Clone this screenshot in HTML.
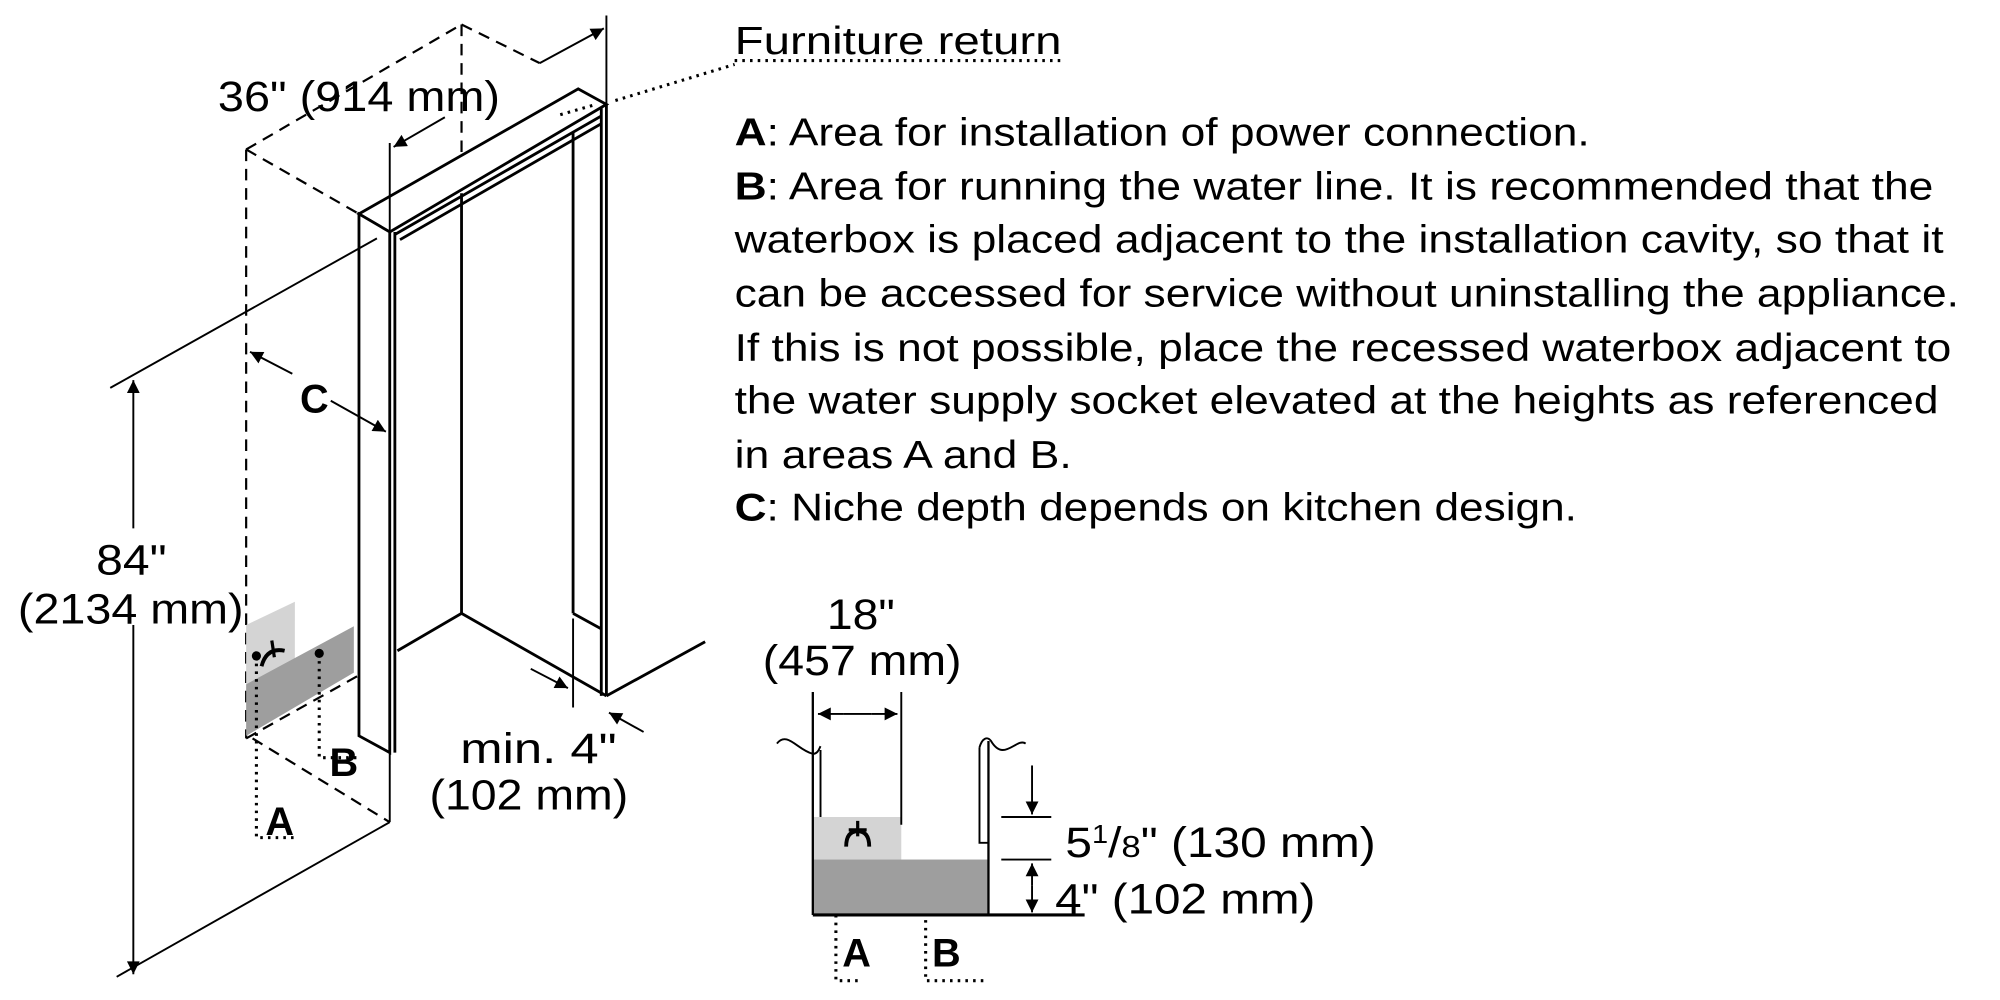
<!DOCTYPE html>
<html><head><meta charset="utf-8"><style>
html,body{margin:0;padding:0;background:#fff;width:2000px;height:1000px;overflow:hidden}
svg{display:block}
text{font-family:"Liberation Sans",Arial,sans-serif;fill:#000}
</style></head><body>
<svg width="2000" height="1000" viewBox="0 0 1560 776" preserveAspectRatio="none" xmlns="http://www.w3.org/2000/svg">
<defs>
<marker id="ar" viewBox="0 0 10 10" refX="10" refY="5" markerWidth="14" markerHeight="10" markerUnits="userSpaceOnUse" orient="auto"><path d="M0,0 L10,5 L0,10 z" fill="#000"/></marker>
</defs>
<g stroke="#000" stroke-width="2.2" fill="none">
<g stroke-dasharray="9,6" stroke-width="1.7">
<line x1="192" y1="116" x2="360" y2="19"/>
<line x1="360" y1="19" x2="421" y2="49"/>
<line x1="360" y1="19" x2="360" y2="150"/>
<line x1="192" y1="116" x2="280" y2="166"/>
<line x1="192" y1="116" x2="192" y2="573"/>
<line x1="197" y1="573" x2="304" y2="638"/>
<line x1="192" y1="573" x2="280" y2="524"/>
</g>
<polygon points="192,485 230,467 230,511 192,531" fill="#d4d4d4" stroke="none"/>
<polygon points="192,531 276,486 276,522 192,571" fill="#9e9e9e" stroke="none"/>
<polygon points="280,166 451,69 473,81 304,180" fill="#fff"/>
<polygon points="280,166 304,180 304,584 280,571" fill="#fff"/>
<line x1="308" y1="180" x2="308" y2="584"/>
<line x1="308" y1="182" x2="469" y2="90"/>
<line x1="312" y1="186" x2="469" y2="96"/>
<line x1="360" y1="150" x2="360" y2="476"/>
<line x1="360" y1="476" x2="310" y2="505"/>
<line x1="360" y1="476" x2="473" y2="540"/>
<line x1="447" y1="103" x2="447" y2="476"/>
<line x1="447" y1="476" x2="469" y2="488"/>
<line x1="469" y1="84" x2="469" y2="540"/>
<line x1="473" y1="81" x2="473" y2="540"/>
<line x1="473" y1="540" x2="550" y2="498"/>
<line x1="473" y1="81" x2="473" y2="12" stroke-width="1.5"/>
<line x1="421" y1="49" x2="471" y2="22" marker-end="url(#ar)" stroke-width="1.5"/>
<line x1="347" y1="91" x2="307" y2="114" marker-end="url(#ar)" stroke-width="1.5"/>
<line x1="304" y1="111" x2="304" y2="189" stroke-width="1.5"/>
<line x1="86" y1="301" x2="294" y2="185" stroke-width="1.5"/>
<line x1="91" y1="758" x2="304" y2="638" stroke-width="1.5"/>
<line x1="304" y1="584" x2="304" y2="638" stroke-width="1.5"/>
<line x1="104" y1="410" x2="104" y2="295" marker-end="url(#ar)" stroke-width="1.5"/>
<line x1="104" y1="485" x2="104" y2="756" marker-end="url(#ar)" stroke-width="1.5"/>
<line x1="228" y1="290" x2="195" y2="273" marker-end="url(#ar)" stroke-width="1.5"/>
<line x1="258" y1="311" x2="301" y2="335" marker-end="url(#ar)" stroke-width="1.5"/>
<line x1="447" y1="480" x2="447" y2="549" stroke-width="1.5"/>
<line x1="414" y1="519" x2="443" y2="534" marker-end="url(#ar)" stroke-width="1.5"/>
<line x1="502" y1="568" x2="475" y2="553" marker-end="url(#ar)" stroke-width="1.5"/>
<g stroke-dasharray="2,4" stroke-width="2.4">
<polyline points="200,509 200,650 230,650"/>
<polyline points="249,507 249,588 279,588"/>
<line x1="480" y1="78" x2="573" y2="50"/>
<line x1="573" y1="47" x2="828" y2="47"/>
<line x1="437" y1="89" x2="465" y2="81"/>
<polyline points="652,662 652,761 672,761"/>
<polyline points="722,690 722,761 770,761"/>
</g>
<circle cx="200" cy="509" r="2.5" fill="#000"/>
<circle cx="249" cy="507" r="2.5" fill="#000"/>
<circle cx="652" cy="662" r="2.5" fill="#000"/>
<circle cx="722" cy="690" r="2.5" fill="#000"/>
<path d="M204,517 Q208,502 222,505" stroke-width="3"/>
<line x1="212" y1="497" x2="214" y2="510" stroke-width="2.5"/>
<g transform="translate(-2,-3)">
<rect x="636" y="637" width="69" height="33" fill="#d4d4d4" stroke="none"/>
<rect x="636" y="670" width="137" height="43" fill="#9e9e9e" stroke="none"/>
<line x1="636" y1="540" x2="636" y2="713" stroke-width="1.8"/>
<line x1="642" y1="585" x2="642" y2="637" stroke-width="1.5"/>
<path d="M608,580 C616,570 624,585 636,588 C640,588 641,584 642,582" stroke-width="1.5"/>
<line x1="705" y1="540" x2="705" y2="643" stroke-width="1.5"/>
<line x1="660" y1="557" x2="640" y2="557" marker-end="url(#ar)" stroke-width="1.5"/>
<line x1="682" y1="557" x2="702" y2="557" marker-end="url(#ar)" stroke-width="1.5"/>
<line x1="660" y1="557" x2="682" y2="557" stroke-width="1.5"/>
<line x1="773" y1="578" x2="773" y2="713" stroke-width="1.8"/>
<polyline points="766,583 766,657 773,657" stroke-width="1.5"/>
<path d="M766,583 C768,576 772,574 775,578 C785,595 795,575 802,580" stroke-width="1.5"/>
<line x1="636" y1="713" x2="848" y2="713" stroke-width="2.5"/>
<line x1="783" y1="637" x2="822" y2="637" stroke-width="1.5"/>
<line x1="783" y1="670" x2="822" y2="670" stroke-width="1.5"/>
<line x1="807" y1="597" x2="807" y2="635" marker-end="url(#ar)" stroke-width="1.5"/>
<line x1="807" y1="690" x2="807" y2="673" marker-end="url(#ar)" stroke-width="1.5"/>
<line x1="807" y1="690" x2="807" y2="711" marker-end="url(#ar)" stroke-width="1.5"/>
<path d="M662,660 Q662,648 671,648 Q680,648 680,660" stroke-width="3"/>
<line x1="671" y1="640" x2="671" y2="652" stroke-width="2.5"/>
<line x1="664" y1="647" x2="678" y2="647" stroke-width="2.5"/>
</g>
</g>
<g font-size="33">
<text x="170" y="86" textLength="220" lengthAdjust="spacingAndGlyphs">36" (914 mm)</text>
<text x="75" y="446" textLength="55" lengthAdjust="spacingAndGlyphs">84"</text>
<text x="14" y="484" textLength="176" lengthAdjust="spacingAndGlyphs">(2134 mm)</text>
<text x="359" y="592" textLength="122" lengthAdjust="spacingAndGlyphs">min. 4"</text>
<text x="335" y="628" textLength="155" lengthAdjust="spacingAndGlyphs">(102 mm)</text>
<text x="645" y="488" textLength="53" lengthAdjust="spacingAndGlyphs">18"</text>
<text x="595" y="524" textLength="155" lengthAdjust="spacingAndGlyphs">(457 mm)</text>
<text x="831" y="665" textLength="242" lengthAdjust="spacingAndGlyphs">5<tspan font-size="20" dy="-11">1</tspan><tspan dy="11">/</tspan><tspan font-size="24">8</tspan>" (130 mm)</text>
<text x="823" y="709" textLength="203" lengthAdjust="spacingAndGlyphs">4" (102 mm)</text>
</g>
<g font-size="31" font-weight="bold">
<text x="234" y="320">C</text>
<text x="207" y="648">A</text>
<text x="257" y="602">B</text>
<text x="657" y="750">A</text>
<text x="727" y="750">B</text>
</g>
<g font-size="30">
<text x="573" y="42" textLength="255" lengthAdjust="spacingAndGlyphs">Furniture return</text>
<text x="573" y="113" textLength="667" lengthAdjust="spacingAndGlyphs"><tspan font-weight="bold">A</tspan>: Area for installation of power connection.</text>
<text x="573" y="155" textLength="935" lengthAdjust="spacingAndGlyphs"><tspan font-weight="bold">B</tspan>: Area for running the water line. It is recommended that the</text>
<text x="573" y="196" textLength="943" lengthAdjust="spacingAndGlyphs">waterbox is placed adjacent to the installation cavity, so that it</text>
<text x="573" y="238" textLength="955" lengthAdjust="spacingAndGlyphs">can be accessed for service without uninstalling the appliance.</text>
<text x="573" y="280" textLength="949" lengthAdjust="spacingAndGlyphs">If this is not possible, place the recessed waterbox adjacent to</text>
<text x="573" y="321" textLength="939" lengthAdjust="spacingAndGlyphs">the water supply socket elevated at the heights as referenced</text>
<text x="573" y="363" textLength="263" lengthAdjust="spacingAndGlyphs">in areas A and B.</text>
<text x="573" y="404" textLength="657" lengthAdjust="spacingAndGlyphs"><tspan font-weight="bold">C</tspan>: Niche depth depends on kitchen design.</text>
</g>
</svg>
</body></html>
